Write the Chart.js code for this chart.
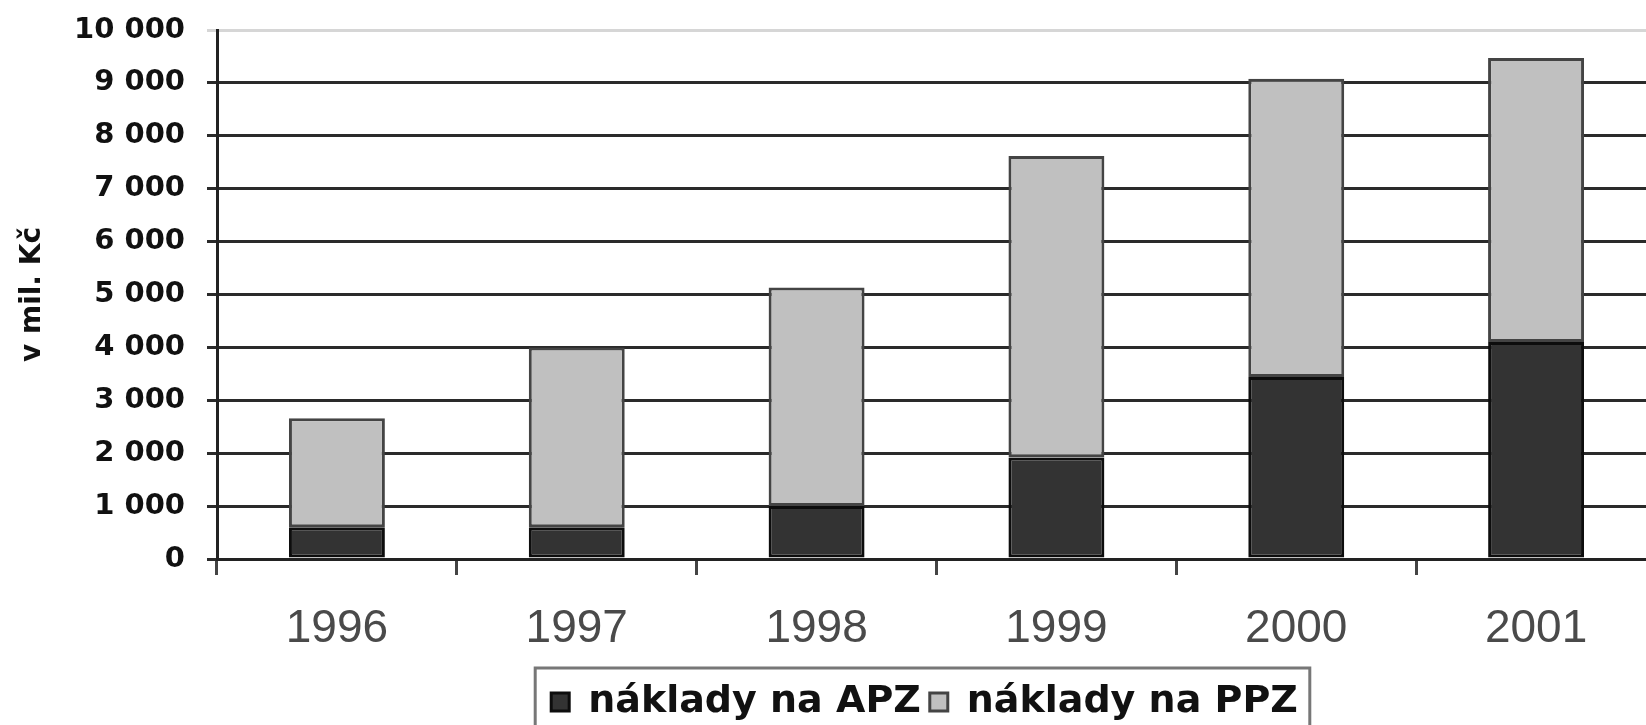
<!DOCTYPE html>
<html>
<head>
<meta charset="utf-8">
<script src="https://cdn.jsdelivr.net/npm/chart.js@4.4.0/dist/chart.umd.min.js"></script>
<style>
  html, body { margin: 0; padding: 0; background: #fff; overflow: hidden; }
  #wrap { width: 1656px; height: 725px; }
</style>
</head>
<body>
<div id="wrap"><canvas id="naklady"></canvas></div>
<script>
// data (mil. Kč)
var roky = ['1996', '1997', '1998', '1999', '2000', '2001'];
var nakladyAPZ = [600, 600, 1000, 1920, 3440, 4100];
var nakladyPPZ = [2060, 3400, 4130, 5700, 5640, 5370];
var osaY = { min: 0, max: 10000, krok: 1000 };
var popisky = ['náklady na APZ', 'náklady na PPZ'];

// legend sits a bit left of the plot centre + has a frame round it
var ramecekLegendy = {
  id: 'ramecekLegendy',
  afterLayout: function(chart) {
    if (!chart.legend) return;
    chart.legend.left -= 12;
    chart.legend.right -= 12;
  },
  afterDraw: function(chart) {
    var boxes = chart.legend && chart.legend.legendHitBoxes;
    if (!boxes || !boxes.length) return;
    var ctx = chart.ctx;
    var a = boxes[0], b = boxes[boxes.length - 1];
    var stred = a.top + a.height / 2;
    ctx.save();
    ctx.strokeStyle = '#777';
    ctx.lineWidth = 3;
    ctx.strokeRect(a.left - 16, stred - 34, (b.left + b.width) - a.left + 28, 90);
    ctx.restore();
  }
};

new Chart(document.getElementById('naklady'), {
  type: 'bar',
  data: {
    labels: roky,
    datasets: [{
      label: popisky[0],
      data: nakladyAPZ,
      backgroundColor: '#333333',
      borderColor: '#0d0d0d',
      borderWidth: 3,
      borderSkipped: false
    }, {
      label: popisky[1],
      data: nakladyPPZ,
      backgroundColor: '#c0c0c0',
      borderColor: '#444444',
      borderWidth: 3,
      borderSkipped: false
    }]
  },
  options: {
    responsive: true,
    maintainAspectRatio: false,
    animation: false,
    barPercentage: 0.4,
    categoryPercentage: 1.0,
    layout: { padding: { top: 30, right: 0, bottom: -6, left: 0 } },
    plugins: {
      tooltip: { enabled: false },
      legend: {
        position: 'bottom',
        fullSize: false,
        labels: {
          color: '#111',
          font: { family: 'DejaVu Sans', size: 38, weight: 'bold' },
          boxWidth: 18,
          boxHeight: 18,
          padding: 9
        }
      }
    },
    scales: {
      x: {
        stacked: true,
        grid: {
          drawOnChartArea: false,
          drawTicks: true,
          tickLength: 16,
          tickWidth: 3,
          tickColor: '#444'
        },
        border: { display: true, color: '#222', width: 3 },
        ticks: {
          color: '#4a4a4a',
          font: { family: 'Liberation Sans', size: 46 },
          padding: 27
        },
        afterFit: function(scale) { scale.height = 115; }
      },
      y: {
        stacked: true,
        min: osaY.min,
        max: osaY.max,
        grid: {
          color: function(c) { return c.tick && c.tick.value === osaY.max ? '#d6d6d6' : '#2a2a2a'; },
          lineWidth: 3,
          tickLength: 10
        },
        border: { display: true, color: '#222', width: 3 },
        ticks: {
          stepSize: osaY.krok,
          color: '#111',
          padding: 22,
          font: { family: 'DejaVu Sans', size: 29, weight: 'bold' },
          callback: function(v) { return String(v).replace(/\B(?=(\d{3})+(?!\d))/g, ' '); }
        },
        title: {
          display: true,
          text: 'v mil. Kč',
          color: '#111',
          font: { family: 'DejaVu Sans', size: 28, weight: 'bold' },
          padding: { top: 16, bottom: 0 }
        },
        afterFit: function(scale) {
          scale.width = 217;
          scale.paddingTop = 0;
          scale.paddingBottom = 0;
        }
      }
    }
  },
  plugins: [ramecekLegendy]
});
</script>
</body>
</html>
